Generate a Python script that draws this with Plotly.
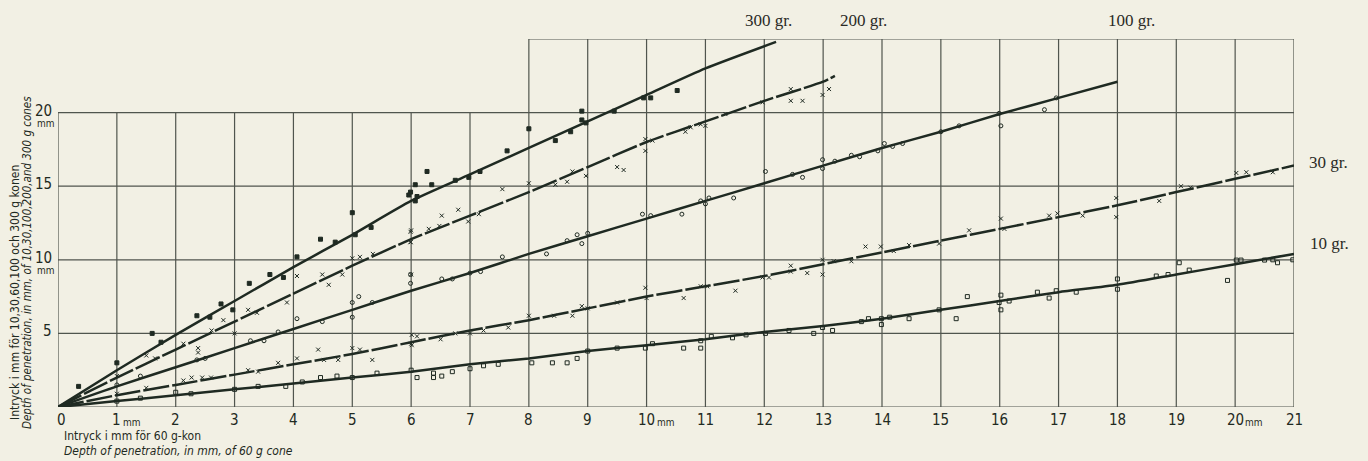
import plotly.graph_objects as go

# ---------------- data ----------------
# fitted curves (x = penetration of 60 g cone, y = penetration of other cones), mm
x_300 = [0, 1, 2, 3, 4, 5, 6, 7, 8, 9, 10, 11, 12.2]
y_300 = [0, 2.5, 4.9, 7.2, 9.5, 11.7, 14.0, 15.8, 17.6, 19.4, 21.2, 23.0, 24.8]

x_200 = [0, 1, 2, 3, 4, 5, 6, 7, 8, 9, 10, 11, 12, 13, 13.2]
y_200 = [0, 2.0, 3.9, 5.8, 7.7, 9.6, 11.4, 13.0, 14.6, 16.3, 18.0, 19.4, 20.8, 22.1, 22.5]

x_100 = [0, 1, 2, 3, 4, 5, 6, 7, 8, 9, 10, 11, 12, 13, 14, 15, 16, 17, 18]
y_100 = [0, 1.4, 2.7, 4.0, 5.3, 6.6, 7.9, 9.1, 10.4, 11.6, 12.8, 14.0, 15.2, 16.4, 17.6, 18.7, 19.9, 21.0, 22.1]

x_30 = [0, 1, 2, 3, 4, 5, 6, 7, 8, 9, 10, 11, 12, 13, 14, 15, 16, 17, 18, 19, 20, 21]
y_30 = [0, 0.8, 1.5, 2.2, 2.9, 3.6, 4.4, 5.2, 5.9, 6.7, 7.5, 8.2, 8.9, 9.7, 10.5, 11.3, 12.1, 12.9, 13.7, 14.6, 15.5, 16.4]

x_10 = [0, 1, 2, 3, 4, 5, 6, 7, 8, 9, 10, 11, 12, 13, 14, 15, 16, 17, 18, 19, 20, 21]
y_10 = [0, 0.4, 0.8, 1.2, 1.6, 2.0, 2.4, 2.9, 3.3, 3.8, 4.2, 4.6, 5.1, 5.5, 6.0, 6.6, 7.2, 7.8, 8.3, 9.0, 9.7, 10.4]

# observed points
px_300 = [0.35, 1.0, 1.6, 1.75, 2.36, 2.58, 2.77, 2.97, 3.25, 3.6, 3.83, 4.06, 4.46, 4.71, 5.0, 5.05,
          5.32, 5.99, 6.1, 6.07, 5.96, 6.07, 6.27, 6.35, 6.75, 6.98, 7.17, 7.63, 8.0, 8.45, 8.71, 8.9,
          8.9, 8.97, 9.45, 9.95, 10.07, 10.52]
py_300 = [1.4, 3.0, 5.0, 4.4, 6.2, 6.1, 7.0, 6.6, 8.4, 9.0, 8.8, 10.2, 11.4, 11.2, 13.2, 11.7,
          12.2, 14.6, 14.3, 14.0, 14.4, 15.1, 16.0, 15.1, 15.4, 15.6, 16.0, 17.4, 18.9, 18.1, 18.7, 20.1,
          19.5, 19.3, 20.1, 21.0, 21.0, 21.5]

px_200 = [1.0, 1.5, 1.65, 2.13, 2.38, 2.38, 2.61, 2.81, 3.0, 3.23, 3.38, 3.89, 4.06, 4.49, 4.6, 4.83,
          5.0, 5.13, 5.35, 6.0, 5.99, 6.0, 5.99, 5.99, 6.3, 6.48, 6.52, 6.8, 6.97, 7.15, 7.55, 8.0, 8.45,
          8.65, 8.74, 8.97, 9.5, 9.61, 9.98, 9.98, 10.1, 10.66, 10.75, 10.92, 11.0, 11.34, 11.97, 12.45,
          12.45, 12.65, 12.99, 13.1]
py_200 = [2.1, 3.5, 3.3, 4.3, 4.0, 3.7, 5.2, 5.9, 5.0, 6.6, 6.4, 7.1, 8.9, 9.0, 8.3, 9.0,
          10.1, 10.2, 10.4, 12.0, 11.2, 9.0, 11.9, 11.2, 12.1, 12.3, 13.0, 13.4, 12.6, 13.1, 14.8, 15.2, 15.1,
          15.3, 16.0, 15.7, 16.3, 16.1, 18.2, 17.4, 18.1, 18.7, 19.0, 19.2, 19.1, 19.9, 20.7, 21.6,
          20.8, 20.8, 21.2, 21.6]

px_100 = [1.0, 1.4, 2.36, 2.5, 3.27, 3.5, 3.74, 4.06, 4.49, 5.0, 5.11, 5.34, 5.0, 5.99, 5.99, 6.52,
          6.7, 7.0, 7.18, 7.55, 8.3, 8.65, 8.82, 8.9, 9.0, 9.93, 10.07, 10.6, 10.92, 11.0, 11.06, 11.48,
          12.02, 12.48, 12.65, 12.99, 12.99, 13.2, 13.48, 13.62, 13.93, 14.04, 14.18, 14.35, 15.0, 15.31,
          15.99, 16.02, 16.76, 16.96]
py_100 = [1.5, 2.1, 3.2, 3.3, 4.5, 4.5, 5.1, 6.0, 5.8, 7.1, 7.5, 7.1, 6.1, 9.0, 8.4, 8.7,
          8.7, 9.1, 9.2, 10.2, 10.4, 11.3, 11.7, 11.1, 11.8, 13.1, 13.0, 13.1, 14.0, 13.8, 14.2, 14.2,
          16.0, 15.8, 15.6, 16.8, 16.2, 16.7, 17.1, 17.0, 17.4, 17.9, 17.7, 17.9, 18.7, 19.1,
          19.95, 19.1, 20.2, 21.0]

px_30 = [1.0, 1.5, 2.13, 2.27, 2.45, 2.6, 3.23, 3.4, 3.74, 4.06, 4.42, 4.52, 4.76, 5.0, 5.13, 5.34,
         6.0, 6.01, 6.01, 6.1, 6.5, 6.75, 7.0, 7.23, 7.65, 8.0, 8.43, 8.74, 8.9, 9.0, 9.5, 9.98, 10.0,
         10.63, 10.92, 11.03, 11.51, 11.97, 12.08, 12.45, 12.45, 12.73, 12.99, 13.18, 12.99, 13.48, 13.72,
         13.98, 14.2, 14.46, 14.97, 15.48, 16.02, 16.08, 16.84, 16.98, 17.41, 17.98, 17.98, 18.71,
         19.08, 19.24, 20.02, 20.19, 20.64]
py_30 = [0.9, 1.3, 1.8, 2.0, 2.0, 2.0, 2.5, 2.4, 3.0, 3.3, 3.9, 3.2, 3.2, 4.0, 3.9, 3.2,
         4.3, 4.9, 4.2, 4.8, 4.6, 5.0, 5.0, 5.2, 5.4, 6.2, 6.2, 6.2, 6.85, 6.7, 7.1, 8.1, 7.4,
         7.4, 8.2, 8.2, 7.9, 8.8, 8.8, 9.6, 9.2, 9.1, 10.0, 9.9, 9.0, 9.9, 10.9,
         10.9, 10.6, 11.0, 11.1, 12.0, 12.8, 12.1, 13.0, 13.15, 13.0, 14.2, 12.9, 14.0,
         15.0, 14.9, 15.9, 15.95, 15.95]

px_10 = [1.0, 1.4, 2.0, 2.26, 3.0, 3.4, 3.87, 4.15, 4.46, 4.74, 5.0, 5.42, 6.0, 6.1, 6.38, 6.38,
         6.52, 6.7, 7.0, 7.23, 7.48, 8.05, 8.4, 8.65, 8.82, 9.0, 9.5, 9.98, 10.1, 10.63, 10.92, 10.92,
         11.1, 11.46, 11.69, 12.02, 12.42, 12.84, 12.99, 13.16, 13.65, 13.77, 13.99, 13.99, 14.13,
         14.46, 14.97, 15.26, 15.45, 15.99, 16.02, 16.02, 16.16, 16.64, 16.84, 16.96, 17.3, 18.0, 18.0,
         18.66, 18.86, 19.05, 19.22, 19.87, 20.02, 20.1, 20.5, 20.64, 20.72, 20.98]
py_10 = [0.4, 0.6, 1.0, 0.9, 1.2, 1.4, 1.4, 1.7, 2.0, 2.1, 2.0, 2.3, 2.5, 2.0, 2.3, 2.0,
         2.1, 2.4, 2.6, 2.8, 2.9, 3.0, 3.0, 3.0, 3.3, 3.8, 4.0, 4.0, 4.3, 4.0, 4.5, 4.0,
         4.8, 4.7, 4.9, 5.0, 5.2, 5.0, 5.4, 5.2, 5.8, 6.0, 6.0, 5.6, 6.1,
         6.0, 6.6, 6.0, 7.5, 7.1, 7.6, 6.6, 7.2, 7.8, 7.4, 7.9, 7.8, 8.7, 8.0,
         8.9, 9.0, 9.8, 9.3, 8.6, 9.98, 9.98, 9.98, 10.0, 9.8, 10.0]

# axes / grid
x_ticks = list(range(0, 22))
x_tick_text = [str(v) for v in x_ticks]
y_ticks = [5, 10, 15, 20]
y_tick_text = ["5", "10", "15", "20"]
grid_x_low = [1, 2, 3, 4, 5, 6, 7]          # verticals reaching 20
grid_x_high = list(range(8, 22))            # verticals reaching 25
grid_y = [0, 5, 10, 15, 20]
mm_x_ticks = [1, 10, 20]
mm_y_ticks = [10, 20]

curve_labels = ["300 gr.", "200 gr.", "100 gr.", "30 gr.", "10 gr."]

# ---------------- style ----------------
BG = "#f2f0e4"
INK = "#1f2a22"
GRID = "#50554e"
NARROW = "Liberation Sans Narrow, DejaVu Sans Condensed, Roboto Condensed, Arial Narrow, sans-serif"
SERIF = "Liberation Serif, DejaVu Serif, serif"

W, H = 1368, 461
L, R, T, B = 58, 74, 39, 54
pw, ph = W - L - R, H - T - B


def px2paper(xp, yp):
    return (xp - L) / pw, 1 - (yp - T) / ph


fig = go.Figure()

curves = [(x_300, y_300, "solid"), (x_200, y_200, "26px,3px"), (x_100, y_100, "solid"),
          (x_30, y_30, "26px,3px"), (x_10, y_10, "solid")]
for cx, cy, dsh in curves:
    fig.add_trace(go.Scatter(x=cx, y=cy, mode="lines",
                             line=dict(color=INK, width=2.5, shape="spline", smoothing=0.6, dash=dsh),
                             hoverinfo="skip", showlegend=False))

pts = [
    (px_300, py_300, "square", 4),
    (px_200, py_200, "x-thin", 4),
    (px_100, py_100, "circle-open", 4),
    (px_30, py_30, "x-thin", 4),
    (px_10, py_10, "square-open", 4),
]
for sx, sy, sym, sz in pts:
    fig.add_trace(go.Scatter(x=sx, y=sy, mode="markers",
                             marker=dict(symbol=sym, size=sz, color=INK,
                                         line=dict(color=INK, width=1)),
                             showlegend=False))

shapes = []
gl = dict(color=GRID, width=1.2)
for gx in grid_x_low:
    shapes.append(dict(type="line", xref="x", yref="y", x0=gx, x1=gx, y0=0, y1=20, line=gl, layer="below"))
for gx in grid_x_high:
    shapes.append(dict(type="line", xref="x", yref="y", x0=gx, x1=gx, y0=0, y1=25, line=gl, layer="below"))
shapes.append(dict(type="line", xref="x", yref="y", x0=0, x1=0, y0=0, y1=20, line=gl, layer="below"))
for gy in grid_y:
    shapes.append(dict(type="line", xref="x", yref="y", x0=0, x1=21, y0=gy, y1=gy, line=gl, layer="below"))
shapes.append(dict(type="line", xref="x", yref="y", x0=8, x1=21, y0=25, y1=25, line=gl, layer="below"))

tick_font = dict(family=NARROW, size=15, color=INK)
mm_font = dict(family=NARROW, size=10, color=INK)
ann = []
# x tick labels
for v, t in zip(x_ticks, x_tick_text):
    ann.append(dict(x=v, y=0, xref="x", yref="y", text=t, showarrow=False,
                    xanchor="center", yanchor="middle", yshift=-13,
                    xshift=3 if v == 0 else 0, font=tick_font))
for mx in mm_x_ticks:
    ann.append(dict(x=mx, y=0, xref="x", yref="y", text="mm", showarrow=False,
                    xanchor="left", yanchor="middle", xshift=4 if mx < 10 else 8, yshift=-15,
                    font=mm_font))
# y tick labels
for v, t in zip(y_ticks, y_tick_text):
    ann.append(dict(x=0, y=v, xref="x", yref="y", text=t, showarrow=False,
                    xanchor="right", yanchor="middle", xshift=-4, yshift=2, font=tick_font))
for my in mm_y_ticks:
    ann.append(dict(x=0, y=my, xref="x", yref="y", text="mm", showarrow=False,
                    xanchor="right", yanchor="middle", xshift=-1, yshift=-11, font=mm_font))

# curve labels
label_pos = [(768, 20), (863, 20), (1131, 20), (1328, 163), (1329, 243)]
for txt, (lx, ly) in zip(curve_labels, label_pos):
    ax, ay = px2paper(lx, ly)
    ann.append(dict(x=ax, y=ay, xref="paper", yref="paper", text=txt, showarrow=False,
                    xanchor="center", yanchor="middle",
                    font=dict(family=SERIF, size=17, color="#2a2a26")))

# axis titles
ax, ay = px2paper(15, 293)
ann.append(dict(x=ax, y=ay, xref="paper", yref="paper", showarrow=False, textangle=-90,
                xanchor="center", yanchor="middle",
                text="Intryck i mm för 10,30,60,100 och 300 g konen",
                font=dict(family=NARROW, size=12, color=INK)))
ax, ay = px2paper(27, 263)
ann.append(dict(x=ax, y=ay, xref="paper", yref="paper", showarrow=False, textangle=-90,
                xanchor="center", yanchor="middle",
                text="<i>Depth of penetration, in mm, of 10,30,100,200,and 300 g cones</i>",
                font=dict(family=NARROW, size=11.5, color=INK)))
ax, ay = px2paper(62, 436)
ann.append(dict(x=ax, y=ay, xref="paper", yref="paper", showarrow=False,
                xanchor="left", yanchor="middle",
                text="Intryck i mm för 60 g-kon",
                font=dict(family=NARROW, size=12, color=INK)))
ax, ay = px2paper(62, 451)
ann.append(dict(x=ax, y=ay, xref="paper", yref="paper", showarrow=False,
                xanchor="left", yanchor="middle",
                text="<i>Depth of penetration, in mm, of 60 g cone</i>",
                font=dict(family=NARROW, size=12, color=INK)))

fig.update_layout(
    width=W, height=H,
    margin=dict(l=L, r=R, t=T, b=B, pad=0),
    paper_bgcolor=BG, plot_bgcolor=BG,
    shapes=shapes, annotations=ann,
    xaxis=dict(range=[0, 21], showgrid=False, zeroline=False, showline=False,
               showticklabels=False, ticks=""),
    yaxis=dict(range=[0, 25], showgrid=False, zeroline=False, showline=False,
               showticklabels=False, ticks=""),
)

fig.write_html("out.html", config={"displayModeBar": False},
               post_script="document.body.style.margin='0';document.body.style.background='%s';" % BG)
